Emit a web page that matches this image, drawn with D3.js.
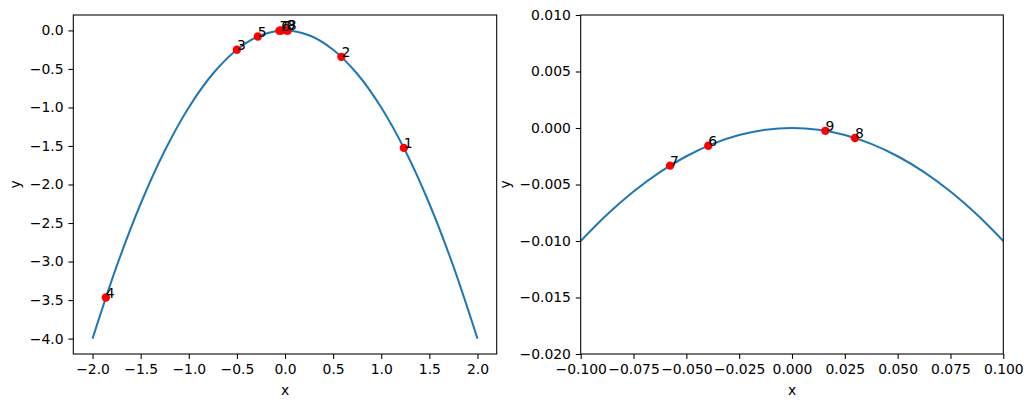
<!DOCTYPE html>
<html lang="en">
<head>
  <meta charset="UTF-8">
  <title>Parabola with iterates</title>
  <script src="https://d3js.org/d3.v7.min.js"></script>
  <style>
    body { margin: 0; background: #fff; font-family: "DejaVu Sans", sans-serif; }
    .tick text { font-size: 13.9px; fill: #000; font-family: "DejaVu Sans", sans-serif; }
    .tick line { stroke: #000; stroke-width: 0.8pt; }
    .domain { display: none; }
    .frame { fill: none; stroke: #000; stroke-width: 0.8pt; }
    .curve { fill: none; stroke: #1f77b4; stroke-width: 1.5pt; }
    .pt { fill: red; }
    .lbl { font-size: 13.9px; fill: #000; }
    .axlabel { font-size: 13.9px; fill: #000; text-anchor: middle; }
  </style>
</head>
<body>
<div id="chart"></div>
<script>
  // curve samples (left panel)
  const curveX1 = [-2, -1.75, -1.5, -1.25, -1, -0.75, -0.5, -0.25, 0, 0.25, 0.5, 0.75, 1, 1.25, 1.5, 1.75, 2];
  const curveY1 = [-4, -3.0625, -2.25, -1.5625, -1, -0.5625, -0.25, -0.0625, 0, -0.0625, -0.25, -0.5625, -1, -1.5625, -2.25, -3.0625, -4];
  // curve samples (right panel, zoomed)
  const curveX2 = [-0.1, -0.0875, -0.075, -0.0625, -0.05, -0.0375, -0.025, -0.0125, 0, 0.0125, 0.025, 0.0375, 0.05, 0.0625, 0.075, 0.0875, 0.1];
  const curveY2 = [-0.01, -0.00766, -0.005625, -0.003906, -0.0025, -0.001406, -0.000625, -0.000156, 0, -0.000156, -0.000625, -0.001406, -0.0025, -0.003906, -0.005625, -0.00766, -0.01];

  // labelled points
  const ptLabels = ["1", "2", "3", "4", "5", "6", "7", "8", "9"];
  const ptX = [1.235, 0.586, -0.5, -1.862, -0.282, -0.0396, -0.0577, 0.0298, 0.0158];
  const ptY = [-1.525, -0.343, -0.25, -3.467, -0.0795, -0.00157, -0.00333, -0.00089, -0.00025];

  const ticksX1 = [-2, -1.5, -1, -0.5, 0, 0.5, 1, 1.5, 2];
  const ticksY1 = [0, -0.5, -1, -1.5, -2, -2.5, -3, -3.5, -4];
  const ticksX2 = [-0.1, -0.075, -0.05, -0.025, 0, 0.025, 0.05, 0.075, 0.1];
  const ticksY2 = [0.01, 0.005, 0, -0.005, -0.01, -0.015, -0.02];

  const W = 1032, H = 407;
  const svg = d3.select("#chart").append("svg")
    .attr("width", W).attr("height", H);

  function panel(opts) {
    const { left, right, top, bottom, xDom, yDom, cx, cy, tx, ty, fmtX, fmtY, id, ylabX } = opts;
    const x = d3.scaleLinear().domain(xDom).range([left, right]);
    const y = d3.scaleLinear().domain(yDom).range([bottom, top]);
    const g = svg.append("g");

    g.append("clipPath").attr("id", id)
      .append("rect").attr("x", left).attr("y", top)
      .attr("width", right - left).attr("height", bottom - top);

    const pts = cx.map((v, i) => [v, cy[i]]);
    g.append("path")
      .datum(pts)
      .attr("class", "curve")
      .attr("clip-path", `url(#${id})`)
      .attr("d", d3.line().x(d => x(d[0])).y(d => y(d[1])).curve(d3.curveCatmullRom.alpha(0.5)));

    const marks = ptLabels.map((l, i) => ({ l, x: ptX[i], y: ptY[i] }))
      .filter(d => d.x >= xDom[0] && d.x <= xDom[1] && d.y >= yDom[0] && d.y <= yDom[1]);

    g.selectAll(".pt").data(marks).enter().append("circle")
      .attr("class", "pt")
      .attr("cx", d => x(d.x)).attr("cy", d => y(d.y)).attr("r", 4.2);

    g.selectAll(".lbl").data(marks).enter().append("text")
      .attr("class", "lbl")
      .attr("x", d => x(d.x)).attr("y", d => y(d.y))
      .text(d => d.l);

    g.append("g")
      .attr("transform", `translate(0,${bottom})`)
      .call(d3.axisBottom(x).tickValues(tx).tickFormat(d3.format(fmtX)).tickSize(4.9).tickPadding(4.9));

    g.append("g")
      .attr("transform", `translate(${left},0)`)
      .call(d3.axisLeft(y).tickValues(ty).tickFormat(d3.format(fmtY)).tickSize(4.9).tickPadding(4.9));

    g.append("rect").attr("class", "frame")
      .attr("x", left).attr("y", top)
      .attr("width", right - left).attr("height", bottom - top);

    g.append("text").attr("class", "axlabel")
      .attr("x", (left + right) / 2).attr("y", bottom + 41)
      .text("x");

    g.append("text").attr("class", "axlabel")
      .attr("transform", `translate(${ylabX},${(top + bottom) / 2}) rotate(-90)`)
      .text("y");
  }

  panel({
    id: "clipL", left: 73.3, right: 496.7, top: 15, bottom: 354,
    xDom: [-2.2, 2.2], yDom: [-4.2, 0.2],
    cx: curveX1, cy: curveY1, tx: ticksX1, ty: ticksY1,
    fmtX: ".1f", fmtY: ".1f", ylabX: 20
  });

  panel({
    id: "clipR", left: 580.7, right: 1003.3, top: 15, bottom: 354,
    xDom: [-0.1, 0.1], yDom: [-0.02, 0.01],
    cx: curveX2, cy: curveY2, tx: ticksX2, ty: ticksY2,
    fmtX: ".3f", fmtY: ".3f", ylabX: 510
  });
</script>
</body>
</html>
